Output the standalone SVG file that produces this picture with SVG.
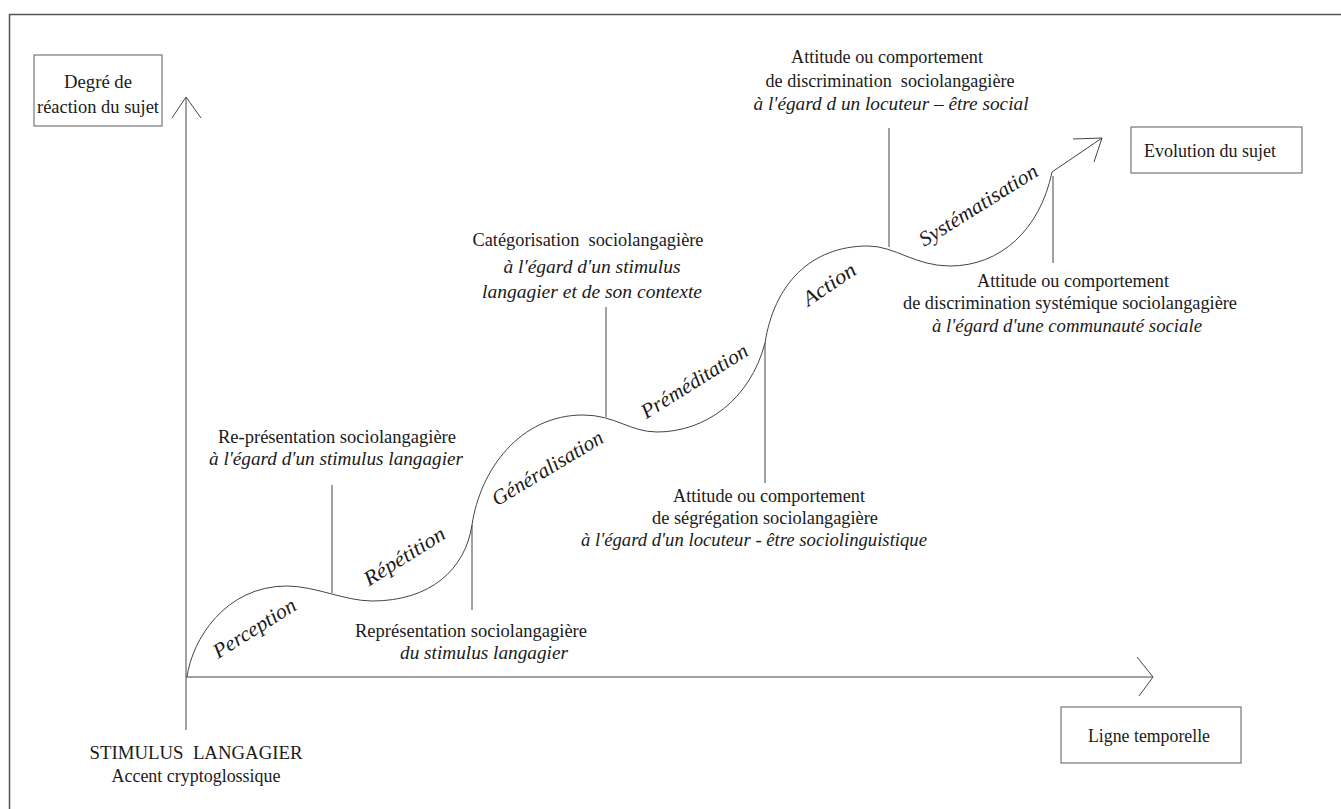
<svg xmlns="http://www.w3.org/2000/svg" width="1341" height="809" viewBox="0 0 1341 809">
<style>
.t{font-family:"Liberation Serif","Times New Roman",serif;font-size:19.5px;fill:#1a1a1a;text-anchor:middle}
.i{font-style:italic}
.lab{font-family:"Liberation Serif","Times New Roman",serif;font-size:21px;font-style:italic;fill:#1a1a1a;text-anchor:middle}
.ln{stroke:#444;stroke-width:1;fill:none}
.box{fill:#fff;stroke:#777;stroke-width:1.2}
</style>
<rect x="0" y="0" width="1341" height="809" fill="#fff"/>
<rect x="9.5" y="14.5" width="1340" height="800" fill="none" stroke="#555" stroke-width="1.5"/>

<g id="connectors">
  <path class="ln" d="M186,730 V97"/>
  <path class="ln" d="M172,118 L186,97 L201,118"/>
  <path class="ln" d="M186,677 H1153"/>
  <path class="ln" d="M1137,657 L1153,677 L1139,696"/>
  <path class="ln" d="M187,677 C192,640 225,586 287,586 C315,586 345,601 372,601 C430,601 465,570 472,525 C480,470 520,415 583,415 C615,415 630,432 657,432 C705,432 750,400 765,343 C774,285 810,246 868,246 C895,246 915,266 950,266 C1000,266 1040,230 1052,172 L1102,138"/>
  <path class="ln" d="M1073,139 L1102,138 L1094,162"/>
  <path class="ln" d="M332,485 V593"/>
  <path class="ln" d="M472,525 V610"/>
  <path class="ln" d="M606,307 V417"/>
  <path class="ln" d="M765,343 V483"/>
  <path class="ln" d="M889,128 V247"/>
  <path class="ln" d="M1053,176 V263"/>
</g>

<g id="node-degre">
  <rect class="box" x="34" y="55" width="128" height="71"/>
  <text class="t" x="98" y="88" textLength="68" lengthAdjust="spacingAndGlyphs">Degré de</text>
  <text class="t" x="98" y="113" textLength="122" lengthAdjust="spacingAndGlyphs">réaction du sujet</text>
</g>

<g id="node-evolution">
  <rect class="box" x="1131" y="127" width="171" height="46"/>
  <text class="t" x="1210" y="157" textLength="132" lengthAdjust="spacingAndGlyphs">Evolution du sujet</text>
</g>

<g id="node-ligne">
  <rect class="box" x="1061" y="707" width="180" height="56"/>
  <text class="t" x="1149" y="742" textLength="122" lengthAdjust="spacingAndGlyphs">Ligne temporelle</text>
</g>

<g id="node-stimulus">
  <text class="t" x="196" y="759" textLength="213" lengthAdjust="spacingAndGlyphs" xml:space="preserve">STIMULUS  LANGAGIER</text>
  <text class="t" x="196" y="782" textLength="169" lengthAdjust="spacingAndGlyphs">Accent cryptoglossique</text>
</g>

<g id="stage-perception">
  <text class="lab" transform="translate(258,634) rotate(-32)" textLength="94" lengthAdjust="spacingAndGlyphs">Perception</text>
</g>
<g id="stage-repetition">
  <text class="lab" transform="translate(408,562) rotate(-32)" textLength="92" lengthAdjust="spacingAndGlyphs">Répétition</text>
</g>
<g id="stage-generalisation">
  <text class="lab" transform="translate(551,474) rotate(-31)" textLength="126" lengthAdjust="spacingAndGlyphs">Généralisation</text>
</g>
<g id="stage-premeditation">
  <text class="lab" transform="translate(698,387) rotate(-32)" textLength="122" lengthAdjust="spacingAndGlyphs">Préméditation</text>
</g>
<g id="stage-action">
  <text class="lab" transform="translate(833,290) rotate(-34)" textLength="60" lengthAdjust="spacingAndGlyphs">Action</text>
</g>
<g id="stage-systematisation">
  <text class="lab" transform="translate(982,211) rotate(-32)" textLength="136" lengthAdjust="spacingAndGlyphs">Systématisation</text>
</g>

<g id="note-representation">
  <text class="t" x="337" y="443" textLength="238" lengthAdjust="spacingAndGlyphs">Re-présentation sociolangagière</text>
  <text class="t i" x="336" y="465" textLength="254" lengthAdjust="spacingAndGlyphs">à l'égard d'un stimulus langagier</text>
</g>

<g id="note-representation2">
  <text class="t" x="471" y="637" textLength="232" lengthAdjust="spacingAndGlyphs">Représentation sociolangagière</text>
  <text class="t i" x="484" y="659" textLength="168" lengthAdjust="spacingAndGlyphs">du stimulus langagier</text>
</g>

<g id="note-categorisation">
  <text class="t" x="588" y="246" textLength="231" lengthAdjust="spacingAndGlyphs" xml:space="preserve">Catégorisation  sociolangagière</text>
  <text class="t i" x="592" y="273" textLength="177" lengthAdjust="spacingAndGlyphs">à l'égard d'un stimulus</text>
  <text class="t i" x="592" y="298" textLength="220" lengthAdjust="spacingAndGlyphs">langagier et de son contexte</text>
</g>

<g id="note-segregation">
  <text class="t" x="769" y="502" textLength="192" lengthAdjust="spacingAndGlyphs">Attitude ou comportement</text>
  <text class="t" x="765" y="524" textLength="226" lengthAdjust="spacingAndGlyphs">de ségrégation sociolangagière</text>
  <text class="t i" x="754" y="546" textLength="346" lengthAdjust="spacingAndGlyphs">à l'égard d'un locuteur - être sociolinguistique</text>
</g>

<g id="note-discrimination">
  <text class="t" x="887" y="63" textLength="192" lengthAdjust="spacingAndGlyphs">Attitude ou comportement</text>
  <text class="t" x="890" y="87" textLength="249" lengthAdjust="spacingAndGlyphs" xml:space="preserve">de discrimination  sociolangagière</text>
  <text class="t i" x="891" y="110" textLength="275" lengthAdjust="spacingAndGlyphs">à l'égard d un locuteur – être social</text>
</g>

<g id="note-systemique">
  <text class="t" x="1073" y="287" textLength="192" lengthAdjust="spacingAndGlyphs">Attitude ou comportement</text>
  <text class="t" x="1070" y="309" textLength="334" lengthAdjust="spacingAndGlyphs">de discrimination systémique sociolangagière</text>
  <text class="t i" x="1067" y="332" textLength="270" lengthAdjust="spacingAndGlyphs">à l'égard d'une communauté sociale</text>
</g>
</svg>
